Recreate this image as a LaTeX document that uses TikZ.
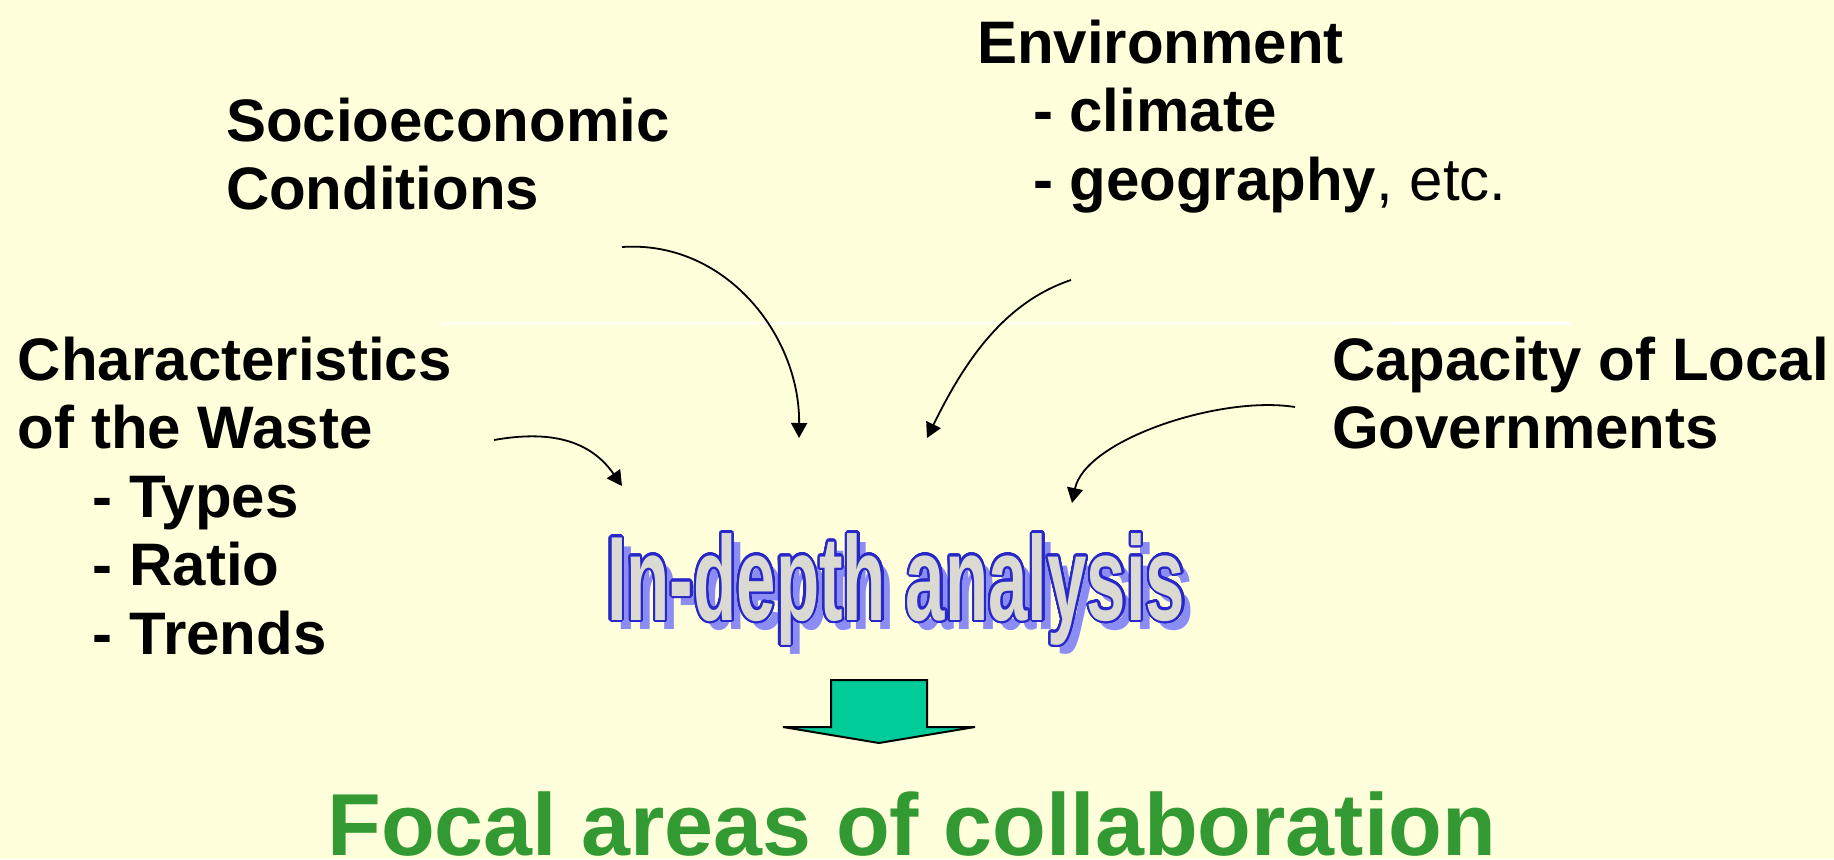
\documentclass[tikz,border=0pt]{standalone}
\usepackage{fontspec}
\setmainfont{Liberation Sans}
\usepackage{contour}
\usetikzlibrary{arrows.meta}
\definecolor{bg}{RGB}{255,255,220}
\definecolor{focalgreen}{RGB}{51,153,51}
\definecolor{wablue}{RGB}{40,40,200}
\definecolor{washadow}{RGB}{140,140,245}
\definecolor{wafill}{RGB}{218,218,210}
\definecolor{arrowfill}{RGB}{0,204,153}
\contourlength{1.1pt}
\contournumber{32}
\begin{document}
\begin{tikzpicture}[x=0.5pt,y=-0.5pt,
  lbl/.style={anchor=base west, inner sep=0pt, outer sep=0pt, font=\bfseries\fontsize{30}{34.25}\selectfont},
  wordart/.style={anchor=base west, inner sep=0pt, outer sep=0pt, font=\bfseries\fontsize{60}{62}\selectfont},
  conn/.style={line width=0.9pt, -{Triangle[length=7.5pt,width=8pt]}},
]
\fill[bg] (0,0) rectangle (1834,859);
\useasboundingbox (0,0) rectangle (1834,859);
\draw[white, line width=1.5pt, opacity=0.6] (441,323) -- (1570,323);
\draw[white, line width=1.5pt] (1394,323) -- (1570,323);

\node[lbl] (env) at (977,63) {\begin{tabular}[t]{@{}l@{}}Environment\\\hspace*{28pt}- climate\\\hspace*{28pt}- geography{\mdseries, etc.}\end{tabular}};
\node[lbl] (socio) at (226,141) {\begin{tabular}[t]{@{}l@{}}Socioeconomic\\Conditions\end{tabular}};
\node[lbl] (waste) at (18,380) {\begin{tabular}[t]{@{}l@{}}Characteristics\\of the Waste\\\hspace*{37.5pt}- Types\\\hspace*{37.5pt}- Ratio\\\hspace*{37.5pt}- Trends\end{tabular}};
\node[lbl] (capac) at (1332,380) {\begin{tabular}[t]{@{}l@{}}Capacity of Local\\Governments\end{tabular}};

\node[wordart, text=washadow] (idashadow) at (616,629) {\scalebox{0.59}[1]{In-depth analysis}};
\node[wordart, text=wafill] (ida) at (607,620) {\contour{wablue}{\scalebox{0.59}[1]{In-depth analysis}}};

\coordinate (socioS) at (622,247);
\coordinate (socioE) at (799,438);
\coordinate (envS) at (1071,280);
\coordinate (envE) at (927,438);
\coordinate (wasteS) at (494,440);
\coordinate (wasteE) at (622,486);
\coordinate (capS) at (1295,407);
\coordinate (capE) at (1072,503);

\draw[conn] (socioS) .. controls (725,240) and (800,335) .. (socioE);
\draw[conn] (envS) .. controls (1005,302) and (965,360) .. (envE);
\draw[conn] (wasteS) .. controls (550,430) and (590,440) .. (wasteE);
\draw[conn] (capS) .. controls (1220,395) and (1085,440) .. (capE);

\draw[fill=arrowfill, line width=1pt, line join=miter] (831,680) -- (927,680) -- (927,727) -- (975,727) -- (879,743) -- (783,727) -- (831,727) -- cycle;

\node[anchor=base west, inner sep=0pt, font=\bfseries\fontsize{44}{48}\selectfont, text=focalgreen] (focal) at (327,855) {Focal areas of collaboration};
\end{tikzpicture}
\end{document}
